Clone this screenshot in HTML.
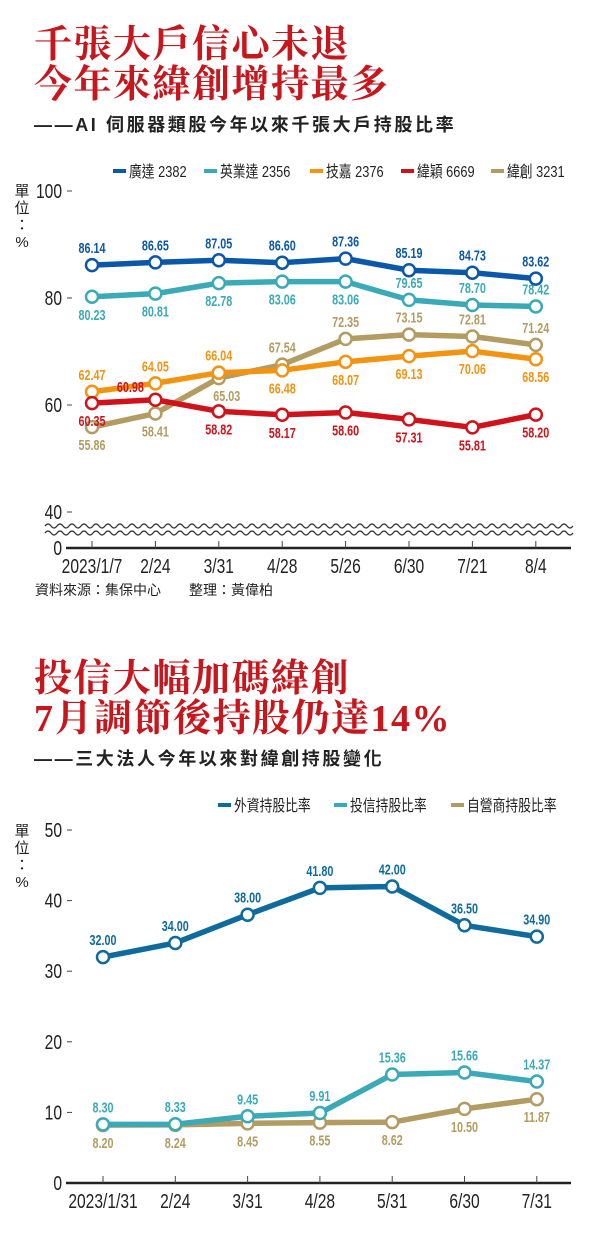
<!DOCTYPE html>
<html><head><meta charset="utf-8">
<style>
body{margin:0;background:#fff;width:600px;height:1245px;overflow:hidden;position:relative;font-family:"Liberation Sans","Noto Sans CJK TC",sans-serif}
.t{position:absolute;left:34px;color:#c8161d;font-family:"Liberation Serif","Noto Serif CJK SC",serif;font-weight:bold;font-size:38px;line-height:40px;letter-spacing:1.5px;white-space:nowrap}
.s{position:absolute;left:34px;font-size:18px;font-weight:bold;color:#222;white-space:nowrap;letter-spacing:2.6px}
svg{position:absolute;left:0;top:0}
</style></head><body>
<div class="t" style="top:25px">千張大戶信心未退<br>今年來緯創增持最多</div>
<div class="s" style="top:111px">——AI 伺服器類股今年以來千張大戶持股比率</div>
<div class="t" style="top:659px">投信大幅加碼緯創<br>7月調節後持股仍達14%</div>
<div class="s" style="top:745px">——三大法人今年以來對緯創持股變化</div>
<svg id="c" width="600" height="1245"></svg>
<script>
const cats1=["2023/1/7","2/24","3/31","4/28","5/26","6/30","7/21","8/4"];
const quanta=[86.14,86.65,87.05,86.60,87.36,85.19,84.73,83.62];
const inventec=[80.23,80.81,82.78,83.06,83.06,79.65,78.70,78.42];
const gigabyte=[62.47,64.05,66.04,66.48,68.07,69.13,70.06,68.56];
const wiwynn=[60.35,60.98,58.82,58.17,58.60,57.31,55.81,58.20];
const wistron=[55.86,58.41,65.03,67.54,72.35,73.15,72.81,71.24];
const ticks1=[100,80,60,40,0];
const names1=["廣達 2382","英業達 2356","技嘉 2376","緯穎 6669","緯創 3231"];
const cats2=["2023/1/31","2/24","3/31","4/28","5/31","6/30","7/31"];
const foreign=[32.00,34.00,38.00,41.80,42.00,36.50,34.90];
const trust=[8.30,8.33,9.45,9.91,15.36,15.66,14.37];
const dealer=[8.20,8.24,8.45,8.55,8.62,10.50,11.87];
const ticks2=[50,40,30,20,10,0];
const names2=["外資持股比率","投信持股比率","自營商持股比率"];

const svg=document.getElementById('c');const NS="http://www.w3.org/2000/svg";
function mk(tag,attrs,txt){const e=document.createElementNS(NS,tag);for(const k in attrs)e.setAttribute(k,attrs[k]);if(txt!==undefined)e.textContent=txt;svg.appendChild(e);return e;}
// condensed text via horizontal scaling
function ct(x,y,txt,attrs,sx){attrs=Object.assign({x:0,y:0,transform:`translate(${x},${y}) scale(${sx||0.78},1)`},attrs);return mk('text',attrs,txt);}
const x1=i=>92+i*63.4;
const y1=v=>v===0?548:405-(v-60)*5.35;
const x2=i=>103+i*72.3;
const y2=v=>1183-v*7.06;

function axis(ticks,yf,axY,xf,cats,unitY){
  ticks.forEach(t=>{
    const e=ct(62,yf(t)+7,t,{'text-anchor':'end','font-size':20,fill:'#222'});
    
    if(t!==0){const l=mk('line',{x1:67,x2:72,y1:yf(t),y2:yf(t),stroke:'#444','stroke-width':1});}
  });
  const ax=mk('line',{x1:66,x2:571,y1:axY,y2:axY,stroke:'#222','stroke-width':2.5});
  
  cats.forEach((c,i)=>{
    const tk=mk('line',{x1:xf(i),x2:xf(i),y1:axY-7,y2:axY,stroke:'#444','stroke-width':1});
    
    const e=ct(xf(i),axY+25,c,{'text-anchor':'middle','font-size':20,fill:'#222'});
    
  });
  ["單","位","：","%"].forEach((ch,k)=>{const e=mk('text',{x:22,y:unitY+k*17,'text-anchor':'middle','font-size':15,fill:'#222'},ch);});
}
function series(vals,xf,yf,col,pos,name){
  const pts=vals.map((v,i)=>xf(i)+','+yf(v)).join(' ');
  const p=mk('polyline',{points:pts,fill:'none',stroke:col,'stroke-width':5.5,'stroke-linejoin':'round'});
  
  vals.forEach((v,i)=>{
    const c=mk('circle',{cx:xf(i),cy:yf(v),r:6,fill:'#fff',stroke:col,'stroke-width':2.5});
    
    const ps=pos[i];let dx=0,dy=ps==='a'?-12:23;if(ps==='l'){dx=-25;dy=-8;}if(ps==='r'){dx=8;dy=23;}
    const t=ct(xf(i)+dx,yf(v)+dy,v.toFixed(2),{'text-anchor':'middle','font-size':15,'font-weight':'bold',fill:col},0.72);
    
  });
}
function legend(names,cols,xs,y){
  names.forEach((n,i)=>{
    const r=mk('rect',{x:xs[i],y:y-2,width:13,height:4,fill:cols[i]});
    const t=ct(xs[i]+16,y+6,n,{'font-size':16,fill:'#222'},0.8);
    
  });
}
// chart 1
axis(ticks1,y1,548,x1,cats1,196);
let w1='M45,526',w2='M45,533';
for(let x=45;x<570;x+=12){w1+=` q3,-4 6,0 q3,4 6,0`;w2+=` q3,-4 6,0 q3,4 6,0`;}
const br=mk('rect',{x:45,y:526,width:526,height:7,fill:'#fff'});
[w1,w2].forEach(d=>{const e=mk('path',{d:d,fill:'none',stroke:'#333','stroke-width':1.2});});
const C1=["#0b57a8","#3aaab6","#f29312","#d0121b","#b39c62"];
legend(names1,C1,[113,204,310,401,491],171);
series(inventec,x1,y1,C1[1],['b','b','b','b','b','a','a','a'],'inventec');
series(wistron,x1,y1,C1[4],['b','b','r','a','a','a','a','a'],'wistron');
series(gigabyte,x1,y1,C1[2],['a','a','a','b','b','b','b','b'],'gigabyte');
series(wiwynn,x1,y1,C1[3],['b','l','b','b','b','b','b','b'],'wiwynn');
series(quanta,x1,y1,C1[0],['a','a','a','a','a','a','a','a'],'quanta');
const src=mk('text',{x:35,y:595,'font-size':14,fill:'#222'},"資料來源：集保中心　　整理：黃偉柏");
// chart 2
axis(ticks2,y2,1183,x2,cats2,836);
const C2=["#0e6b9c","#3aaab6","#b39c62"];
legend(names2,C2,[218,334,451],805);
series(dealer,x2,y2,C2[2],['b','b','b','b','b','b','b'],'dealer');
series(trust,x2,y2,C2[1],['a','a','a','a','a','a','a'],'trust');
series(foreign,x2,y2,C2[0],['a','a','a','a','a','a','a'],'foreign');
</script>
</body></html>
